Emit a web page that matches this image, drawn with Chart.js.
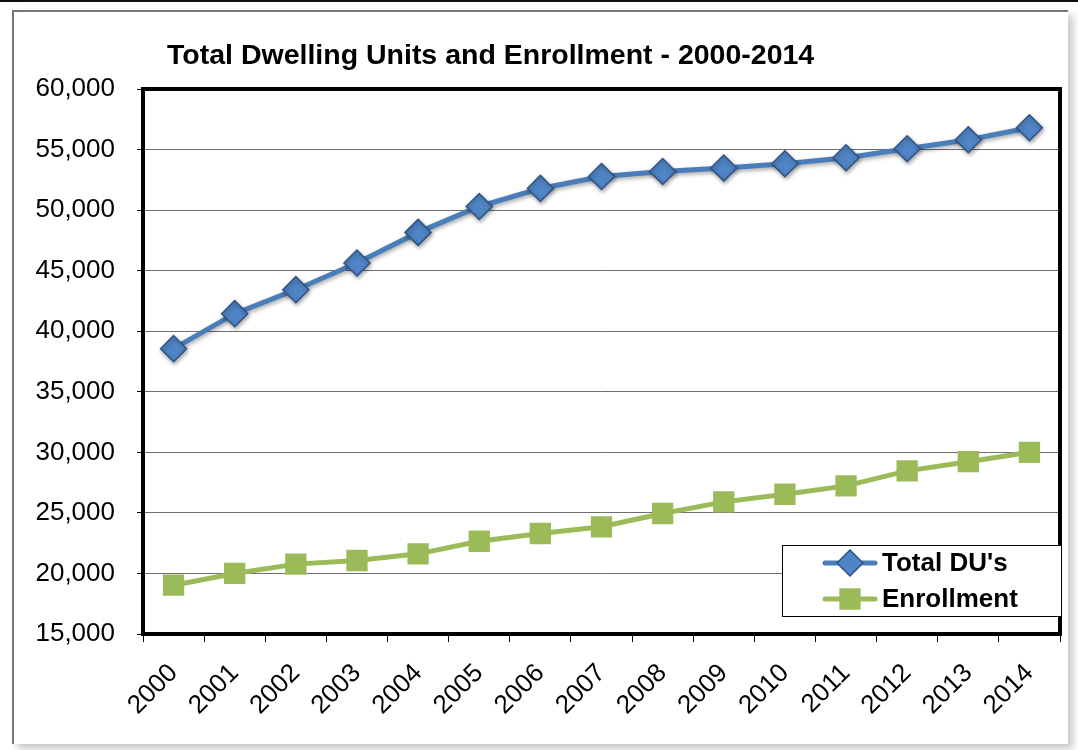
<!DOCTYPE html>
<html>
<head>
<meta charset="utf-8">
<script src="https://cdn.jsdelivr.net/npm/chart.js@4.4.0/dist/chart.umd.min.js"></script>
<style>
    html, body { margin: 0; padding: 0; background: #fff; }
    body { width: 1078px; height: 750px; overflow: hidden; position: relative; }
    .top-rule { position: absolute; left: 0; top: 0; width: 1078px; height: 2px; background: #111; }
    .frame {
        position: absolute; left: 12px; top: 10px; width: 1054px; height: 732px;
        border-left: 2px solid #777; border-top: 2px solid #777;
        box-shadow: 5px 5px 8px rgba(0, 0, 0, 0.22);
        background: #fff;
    }
    #chart { position: absolute; left: 0; top: 0; }
</style>
</head>
<body>
<div class="top-rule"></div>
<div class="frame"></div>
<canvas id="chart" width="1078" height="750"></canvas>
<script>
const chartTitle = 'Total Dwelling Units and Enrollment - 2000-2014';
const years = ['2000', '2001', '2002', '2003', '2004', '2005', '2006', '2007', '2008', '2009', '2010', '2011', '2012', '2013', '2014'];
const totalDUs = [38560, 41450, 43430, 45630, 48160, 50300, 51790, 52780, 53190, 53470, 53830, 54320, 55070, 55810, 56800];
const enrollment = [19030, 20000, 20770, 21070, 21620, 22660, 23300, 23850, 24950, 25910, 26540, 27230, 28470, 29230, 30000];
const yMin = 15000;
const yMax = 60000;
const yStep = 5000;

const FONT = '"Liberation Sans", Arial, sans-serif';

const series = [
    { label: "Total DU's", data: totalDUs, color: '#4A7EBB', fill: '#4F85C6', edge: '#2F5383', style: 'rectRot', radius: 13 },
    { label: 'Enrollment', data: enrollment, color: '#9BBB59', fill: '#9BBB59', edge: '#9BBB59', style: 'rect', radius: 14 },
];

const framePlugin = {
    id: 'plotFrame',
    beforeDatasetsDraw(chart) {
        const { ctx, chartArea: a } = chart;
        ctx.save();
        ctx.strokeStyle = '#000';
        ctx.lineWidth = 4;
        ctx.strokeRect(a.left, a.top, a.right - a.left, a.bottom - a.top);
        ctx.restore();
    },
    beforeDatasetDraw(chart, args) {
        if (args.index !== 0) return;
        chart.ctx.save();
        chart.ctx.shadowColor = 'rgba(0, 0, 0, 0.35)';
        chart.ctx.shadowBlur = 4;
        chart.ctx.shadowOffsetX = 1;
        chart.ctx.shadowOffsetY = 2;
    },
    afterDatasetDraw(chart, args) {
        if (args.index !== 0) return;
        chart.ctx.restore();
    },
    afterDraw(chart) {
        const { ctx } = chart;
        ctx.save();
        ctx.fillStyle = '#000';
        ctx.font = `bold 28.5px ${FONT}`;
        ctx.textBaseline = 'alphabetic';
        ctx.textAlign = 'left';
        ctx.fillText(chartTitle, 167, 64);

        // legend box inside the plot
        const box = { x: 782, y: 545, w: 279, h: 71 };
        ctx.fillStyle = '#fff';
        ctx.fillRect(box.x, box.y, box.w, box.h);
        ctx.strokeStyle = '#000';
        ctx.lineWidth = 1;
        ctx.strokeRect(box.x + 0.5, box.y + 0.5, box.w, box.h);

        series.forEach((s, i) => {
            const y = box.y + 18 + i * 36;
            ctx.strokeStyle = s.color;
            ctx.lineWidth = 5;
            ctx.lineCap = 'round';
            ctx.beginPath();
            ctx.moveTo(825, y);
            ctx.lineTo(875, y);
            ctx.stroke();
            ctx.fillStyle = s.fill;
            ctx.strokeStyle = s.edge;
            ctx.lineWidth = 1.5;
            Chart.helpers.drawPoint(ctx, { pointStyle: s.style, radius: s.radius, borderWidth: 1.5, rotation: 0 }, 850, y);
            ctx.fillStyle = '#000';
            ctx.font = `bold 26px ${FONT}`;
            ctx.textBaseline = 'middle';
            ctx.fillText(s.label, 882, y + 1);
        });
        ctx.restore();
    },
};

new Chart(document.getElementById('chart'), {
    type: 'line',
    data: {
        labels: years,
        datasets: series.map((s) => ({
            label: s.label,
            data: s.data,
            borderColor: s.color,
            borderWidth: 5,
            backgroundColor: s.fill,
            pointStyle: s.style,
            pointRadius: s.radius,
            pointHoverRadius: s.radius,
            pointBackgroundColor: s.fill,
            pointBorderColor: s.edge,
            pointBorderWidth: 1.5,
            tension: 0,
            fill: false,
        })),
    },
    plugins: [framePlugin],
    options: {
        responsive: false,
        animation: false,
        events: [],
        layout: { padding: { top: 89, right: 18, bottom: 0, left: 0 } },
        plugins: {
            legend: { display: false },
            title: { display: false },
            tooltip: { enabled: false },
        },
        scales: {
            x: {
                offset: true,
                border: { display: false },
                grid: { display: true, offset: true, drawOnChartArea: false, drawTicks: true, tickLength: 8, tickColor: '#000', tickWidth: 1 },
                ticks: {
                    color: '#000',
                    font: { family: FONT, size: 26 },
                    minRotation: 45,
                    maxRotation: 45,
                    padding: 16,
                    autoSkip: false,
                },
                afterFit(scale) { scale.height = 116; },
            },
            y: {
                min: yMin,
                max: yMax,
                border: { display: false },
                grid: { color: '#6e6e6e', lineWidth: 1, drawTicks: true, tickLength: 6, tickColor: '#000' },
                ticks: {
                    stepSize: yStep,
                    color: '#000',
                    font: { family: FONT, size: 26 },
                    padding: 22,
                    callback: (value) => Number(value).toLocaleString('en-US'),
                },
                afterFit(scale) { scale.width = 143; },
            },
        },
    },
});
</script>
</body>
</html>
